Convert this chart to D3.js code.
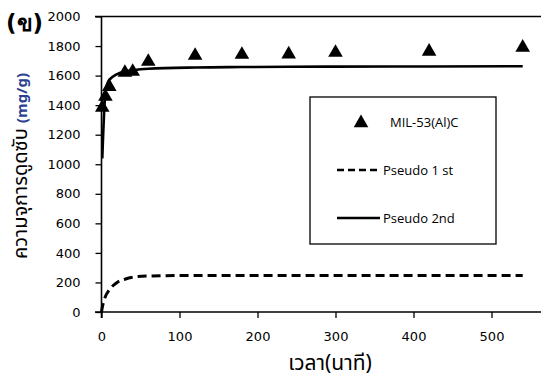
<!DOCTYPE html>
<html>
<head>
<meta charset="utf-8">
<script src="https://cdn.jsdelivr.net/npm/d3@7"></script>
<style>
  html, body { margin: 0; padding: 0; background: #fff; }
  svg { display: block; }
  .tick text { font-family: "DejaVu Sans", Verdana, sans-serif; }
</style>
</head>
<body>
<svg id="chart" width="541" height="380"></svg>
<script>
// Adsorption kinetics of MIL-53(Al)C: measured capacity and two kinetic model fits
const times = [1, 5, 10, 30, 40, 60, 120, 180, 240, 300, 420, 540];
const measured = [1383, 1458, 1525, 1620, 1627, 1695, 1735, 1742, 1745, 1756, 1763, 1790];
const pseudo2Times = [1, 5, 10, 30, 40, 60, 120, 180, 240, 300, 420, 540];
const pseudo2 = [1040, 1482, 1572, 1628, 1636, 1646, 1655, 1658, 1660, 1661, 1662, 1663];
const pseudo1Times = [0, 1, 5, 10, 20, 30, 40, 60, 120, 180, 240, 300, 420, 540];
const pseudo1 = [0, 30, 105, 150, 200, 222, 235, 244, 247, 247, 247, 247, 247, 247];
const xTicks = [0, 100, 200, 300, 400, 500];
const yTicks = [0, 200, 400, 600, 800, 1000, 1200, 1400, 1600, 1800, 2000];
const legendItems = ["MIL-53(Al)C", "Pseudo 1 st", "Pseudo 2nd"];

const svg = d3.select("#chart");
const x = d3.scaleLinear().domain([0, 600]).range([101.5, 569.5]);
const y = d3.scaleLinear().domain([0, 2000]).range([312, 16.5]);
const thaiFont = "Tahoma, 'Noto Sans Thai', 'Noto Sans Thai UI', 'Noto Sans', sans-serif";

// top border of the plot area
svg.append("line")
  .attr("x1", 95).attr("x2", 541)
  .attr("y1", y(2000)).attr("y2", y(2000))
  .attr("stroke", "#000").attr("stroke-width", 1.5);

// axes
const yAxis = svg.append("g")
  .attr("transform", `translate(${x(0)},0)`)
  .call(d3.axisLeft(y).tickValues(yTicks).tickSize(6).tickPadding(15).tickFormat(d3.format("d")));
const xAxis = svg.append("g")
  .attr("transform", `translate(0,${y(0)})`)
  .call(d3.axisBottom(x).tickValues(xTicks).tickSize(6).tickPadding(14).tickFormat(d3.format("d")));
xAxis.select(".domain").attr("d", `M95,0H541`);
yAxis.select(".domain").attr("d", `M0,${y(2000)}V${y(0) + 6}`);
[xAxis, yAxis].forEach(g => {
  g.select(".domain").attr("stroke", "#000").attr("stroke-width", 1.6);
  g.selectAll(".tick line").attr("stroke", "#000").attr("stroke-width", 1.3);
  g.selectAll(".tick text").attr("font-size", 13).attr("fill", "#000");
});

// model curves
const line = d3.line().x(d => x(d[0])).y(d => y(d[1])).curve(d3.curveMonotoneX);
svg.append("path")
  .datum(pseudo1Times.map((t, i) => [t, pseudo1[i]]))
  .attr("d", line)
  .attr("fill", "none").attr("stroke", "#000").attr("stroke-width", 3)
  .attr("stroke-dasharray", "9,5");
svg.append("path")
  .datum(pseudo2Times.map((t, i) => [t, pseudo2[i]]))
  .attr("d", line)
  .attr("fill", "none").attr("stroke", "#000").attr("stroke-width", 2.6);

// measured points
const tri = d3.symbol().type(d3.symbolTriangle).size(92);
svg.append("g").selectAll("path")
  .data(times.map((t, i) => [t, measured[i]]))
  .join("path")
  .attr("d", tri)
  .attr("transform", d => `translate(${x(d[0])},${y(d[1])})`)
  .attr("fill", "#000");

// legend
const lg = svg.append("g");
lg.append("rect")
  .attr("x", 310).attr("y", 97).attr("width", 186).attr("height", 147)
  .attr("fill", "#fff").attr("stroke", "#000").attr("stroke-width", 1.3);
lg.append("path").attr("d", tri).attr("transform", "translate(361,123)").attr("fill", "#000");
lg.append("line").attr("x1", 337).attr("x2", 380).attr("y1", 170).attr("y2", 170)
  .attr("stroke", "#000").attr("stroke-width", 2.5).attr("stroke-dasharray", "7,4");
lg.append("line").attr("x1", 337).attr("x2", 380).attr("y1", 218).attr("y2", 218)
  .attr("stroke", "#000").attr("stroke-width", 2.5);
lg.selectAll("text").data(legendItems).join("text")
  .attr("x", (d, i) => i === 0 ? 390 : 383)
  .attr("y", (d, i) => [127, 175, 223][i])
  .attr("font-family", "'Open Sans', 'Noto Sans', sans-serif")
  .attr("font-size", 13)
  .attr("fill", "#000")
  .text(d => d);

// axis titles
svg.append("text")
  .attr("x", 330).attr("y", 370)
  .attr("text-anchor", "middle")
  .attr("font-family", thaiFont)
  .attr("font-size", 21).attr("fill", "#000")
  .text("เวลา(นาที)");

const yt = svg.append("text")
  .attr("transform", "translate(27,166) rotate(-90)")
  .attr("text-anchor", "middle")
  .attr("font-family", thaiFont)
  .attr("font-size", 20).attr("fill", "#000");
yt.append("tspan").text("ความจุการดูดซับ   ");
yt.append("tspan").attr("fill", "#2a3f8f").attr("font-weight", "bold").attr("font-size", 15).text("(mg/g)");

// panel label
svg.append("text")
  .attr("x", 6).attr("y", 31)
  .attr("font-family", "'DejaVu Sans', sans-serif")
  .attr("font-size", 23).attr("font-weight", "bold").attr("fill", "#000")
  .text("(ข)");
</script>
</body>
</html>
